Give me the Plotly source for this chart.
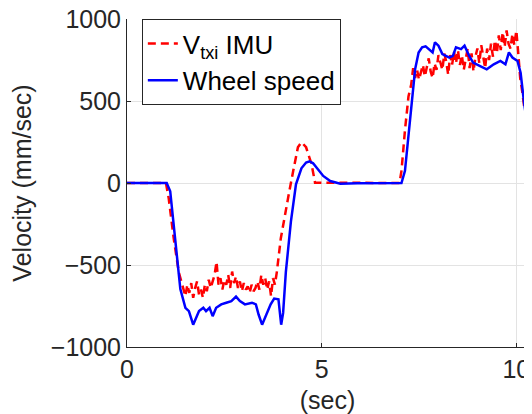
import plotly.graph_objects as go

# Wheel speed (blue, solid)
wheel_t = [0.0, 1.02, 1.11, 1.24, 1.37, 1.50, 1.59, 1.70, 1.77, 1.85, 1.96, 2.03, 2.12, 2.20,
           2.29, 2.42, 2.55, 2.68, 2.80, 2.90, 3.03, 3.21, 3.31, 3.38, 3.47, 3.56, 3.69, 3.78,
           3.89, 3.96, 4.01, 4.08, 4.21, 4.34, 4.48, 4.60, 4.69, 4.78, 4.87, 5.04, 5.22, 5.48,
           5.92, 7.05, 7.14, 7.23, 7.32, 7.40, 7.49, 7.58, 7.67, 7.76, 7.85, 7.91, 8.00, 8.10,
           8.28, 8.37, 8.45, 8.58, 8.67, 8.79, 8.89, 9.07, 9.24, 9.42, 9.59, 9.72, 9.81, 9.90,
           10.03, 10.11, 10.20, 10.31]
wheel_v = [0, 0, -50, -338, -647, -761, -781, -864, -823, -781, -761, -781, -761, -812,
           -761, -740, -730, -720, -693, -720, -740, -730, -740, -802, -864, -812, -740, -705,
           -709, -864, -792, -544, -235, -8, 90, 125, 132, 120, 95, 43, 12, -4,
           -2, 0, 74, 280, 528, 693, 796, 827, 833, 816, 796, 858, 837, 786,
           765, 775, 827, 816, 837, 775, 734, 713, 693, 724, 744, 724, 796, 765,
           744, 672, 487, 311]

# Vtxi IMU (red, dashed)
imu_t = [0.0, 1.00, 1.07, 1.20, 1.33, 1.40,
         1.45, 1.50, 1.55, 1.60, 1.65, 1.70, 1.75, 1.80, 1.85, 1.90, 1.95, 2.00, 2.05, 2.10,
         2.15, 2.20, 2.25, 2.30, 2.35, 2.40, 2.45, 2.50, 2.55, 2.60, 2.65, 2.70, 2.75, 2.80,
         2.85, 2.90, 2.95, 3.00, 3.05, 3.10, 3.15, 3.20, 3.25, 3.30, 3.35, 3.40, 3.45, 3.50,
         3.55, 3.60, 3.65, 3.70, 3.75, 3.80, 3.85,
         3.95, 4.04, 4.17, 4.27, 4.39, 4.48, 4.60, 4.74, 4.83, 7.00, 7.05, 7.14, 7.23,
         7.30, 7.35, 7.40, 7.45, 7.50, 7.55, 7.60, 7.65, 7.70, 7.75, 7.80, 7.85, 7.90, 7.95,
         8.00, 8.05, 8.10, 8.15, 8.20, 8.25, 8.30, 8.35, 8.40, 8.45, 8.50, 8.55, 8.60, 8.65,
         8.70, 8.75, 8.80, 8.85, 8.90, 8.95, 9.00, 9.05, 9.10, 9.15, 9.20, 9.25, 9.30, 9.35,
         9.40, 9.45, 9.50, 9.55, 9.60, 9.65, 9.70, 9.75, 9.80, 9.85, 9.90, 9.95, 10.00, 10.05,
         10.10, 10.15, 10.20, 10.25]
imu_v = [0, 0, -91, -338, -544, -600,
         -640, -690, -620, -670, -610, -700, -640, -600, -680, -650, -700, -620, -660, -590,
         -640, -600, -560, -480, -620, -580, -650, -590, -620, -560, -640, -540, -610, -570,
         -640, -600, -660, -610, -650, -630, -670, -620, -660, -640, -600, -650, -560, -620,
         -580, -650, -600, -690, -580, -620, -540,
         -338, -214, -49, 74, 218, 249, 218, 115, 2, 0, 74, 322, 528,
         600, 700, 640, 690, 630, 680, 720, 650, 700, 760, 680, 640, 730, 690,
         780, 740, 690, 790, 740, 660, 780, 720, 800, 730, 810, 720, 780, 690,
         770, 820, 700, 790, 680, 770, 820, 730, 840, 760, 700, 820, 750, 850,
         770, 870, 790, 900, 810, 920, 830, 930, 850, 820, 910, 840, 930, 790,
         640, 560, 470, 440]

x_ticks = [0, 5, 10]
y_ticks = [-1000, -500, 0, 500, 1000]

FONT = "Liberation Sans, Arial, Helvetica, sans-serif"
AX = "#262626"

fig = go.Figure()
fig.add_trace(go.Scatter(x=imu_t, y=imu_v, mode="lines", name="V<sub>txi</sub> IMU",
                         line=dict(color="#ff0000", width=2.5, dash="8px,5px")))
fig.add_trace(go.Scatter(x=wheel_t, y=wheel_v, mode="lines", name="Wheel speed",
                         line=dict(color="#0000ff", width=2.5)))

# page body has an 8px margin, so the figure is 8px smaller and offset
fig.update_layout(
    width=524, height=406,
    margin=dict(l=119, r=4, t=11, b=67),
    paper_bgcolor="white", plot_bgcolor="white",
    font=dict(family=FONT, size=25, color=AX),
    showlegend=True,
    legend=dict(x=0.037, y=1.0, xanchor="left", yanchor="top",
                bgcolor="white", bordercolor=AX, borderwidth=1,
                font=dict(size=26, color="black"), tracegroupgap=0,
                itemwidth=30),
)
fig.update_xaxes(range=[0, 10.3], tickvals=x_ticks, showgrid=True, gridcolor="#e3e3e3",
                 gridwidth=1, zeroline=False, showline=True, linecolor=AX, linewidth=1,
                 ticks="inside", ticklen=4, tickcolor=AX, automargin=False,
                 ticklabeloverflow="allow",
                 title=dict(text="(sec)", font=dict(size=25)))
fig.update_yaxes(range=[-1000, 1000], tickvals=y_ticks, showgrid=True, gridcolor="#e3e3e3",
                 gridwidth=1, zeroline=False, showline=True, linecolor=AX, linewidth=1,
                 ticks="inside", ticklen=4, tickcolor=AX, automargin=False,
                 ticklabeloverflow="allow",
                 title=dict(text="Velocity (mm/sec)", font=dict(size=25)))

fig.write_html("out.html")
